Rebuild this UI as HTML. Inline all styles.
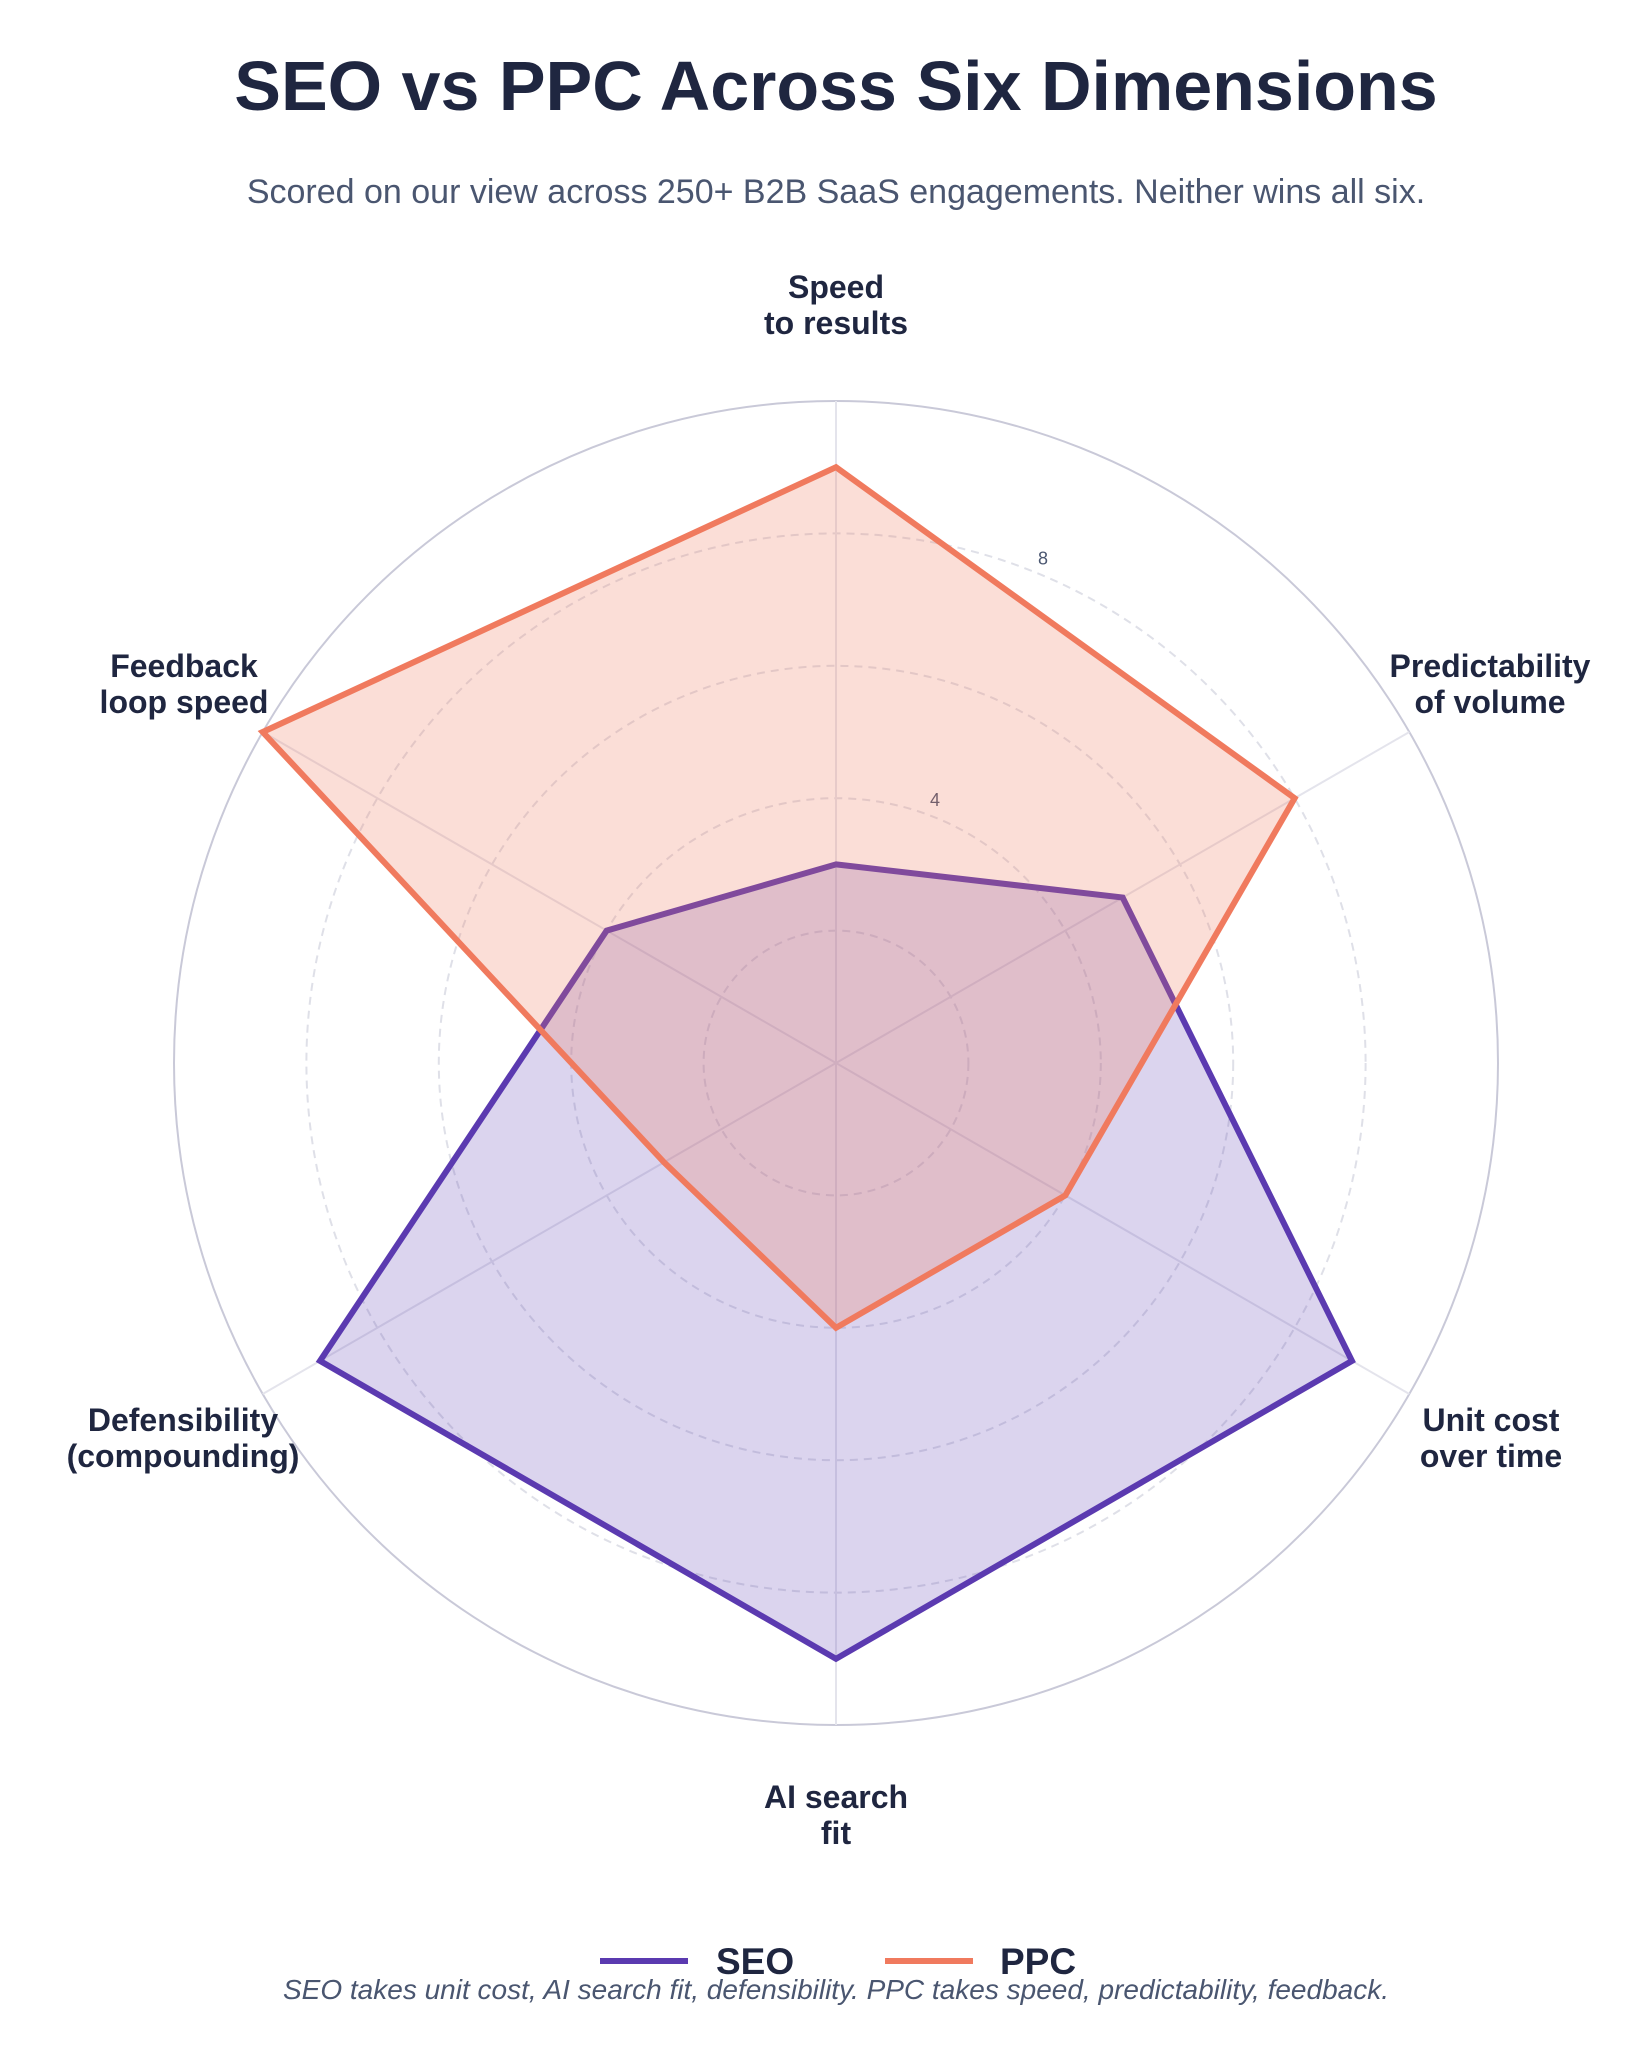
<!DOCTYPE html>
<html><head><meta charset="utf-8"><style>
body{margin:0;background:#fff;font-family:"Liberation Sans",sans-serif}
svg{display:block}
</style></head><body>
<svg id="chart" width="1645" height="2048" viewBox="0 0 1645 2048">
<text x="836" y="110" text-anchor="middle" font-size="70" font-weight="bold" fill="#1f2640">SEO vs PPC Across Six Dimensions</text>
<text x="836" y="203" text-anchor="middle" font-size="34" fill="#4a5670">Scored on our view across 250+ B2B SaaS engagements. Neither wins all six.</text>
<g id="grid"></g><g id="series"></g><g id="labels"></g>
<g>
<line x1="600" y1="1961" x2="688" y2="1961" stroke="#5b3ab0" stroke-width="6"/>
<text x="716" y="1974" font-size="37" font-weight="bold" fill="#1f2640">SEO</text>
<line x1="885" y1="1961" x2="973" y2="1961" stroke="#f07a5e" stroke-width="6"/>
<text x="1000" y="1974" font-size="37" font-weight="bold" fill="#1f2640">PPC</text>
</g>
<text x="836" y="1999" text-anchor="middle" font-size="28" font-style="italic" fill="#4a5670">SEO takes unit cost, AI search fit, defensibility. PPC takes speed, predictability, feedback.</text>
</svg>
<script>
const categories=[["Speed","to results"],["Predictability","of volume"],["Unit cost","over time"],["AI search","fit"],["Defensibility","(compounding)"],["Feedback","loop speed"]];
const seoValues=[3,5,9,9,9,4];
const ppcValues=[9,8,4,4,3,10];
const tickValues=[2,4,6,8];
const tickLabels=["","4","","8"];
const NS="http://www.w3.org/2000/svg";
const cx=836,cy=1063,R=662,maxV=10;
function mk(t,a,p){const e=document.createElementNS(NS,t);for(const k in a)e.setAttribute(k,a[k]);p.appendChild(e);return e;}
function ang(i){return -Math.PI/2+i*2*Math.PI/categories.length;}
function pt(i,v){const r=v/maxV*R;return [cx+r*Math.cos(ang(i)),cy+r*Math.sin(ang(i))];}
const grid=document.getElementById('grid');
tickValues.forEach((v,k)=>{
 const c=mk('circle',{cx:cx,cy:cy,r:v/maxV*R,fill:'none',stroke:'#dfe0e8','stroke-width':2,'stroke-dasharray':'8 6'},grid);
 
 
 if(tickLabels[k]){const a=-Math.PI/2+0.42;const r=v/maxV*R;
  const t=mk('text',{x:cx+r*Math.cos(a)-9,y:cy+r*Math.sin(a)-15,'font-size':18,fill:'#4a5670','text-anchor':'middle'},grid);
  t.textContent=tickLabels[k];
  
  }
});
const outer=mk('circle',{cx:cx,cy:cy,r:R,fill:'none',stroke:'#c9c9d8','stroke-width':2},grid);


categories.forEach((c,i)=>{const p=pt(i,maxV);
 const l=mk('line',{x1:cx,y1:cy,x2:p[0],y2:p[1],stroke:'#e4e4ec','stroke-width':2},grid);
 
 });
const series=document.getElementById('series');
function draw(vals,col,fill,name){
 const pts=vals.map((v,i)=>pt(i,v).join(',')).join(' ');
 const p=mk('polygon',{points:pts,fill:fill,stroke:col,'stroke-width':6,'stroke-linejoin':'miter'},series);
 
 
}
draw(seoValues,'#5b3ab0','rgba(91,58,176,0.22)','seo');
draw(ppcValues,'#f07a5e','rgba(240,122,94,0.25)','ppc');
const labels=document.getElementById('labels');
const lpos=[[836,298],[1490,677],[1491,1431],[836,1808],[183,1431],[184,677]];
categories.forEach((c,i)=>{
 const t=mk('text',{x:lpos[i][0],y:lpos[i][1],'font-size':32,'font-weight':'bold',fill:'#1f2640','text-anchor':'middle'},labels);
 
 
 c.forEach((s,j)=>{const ts=mk('tspan',{x:lpos[i][0],dy:j?36:0},t);ts.textContent=s;});
});
</script>
</body></html>
